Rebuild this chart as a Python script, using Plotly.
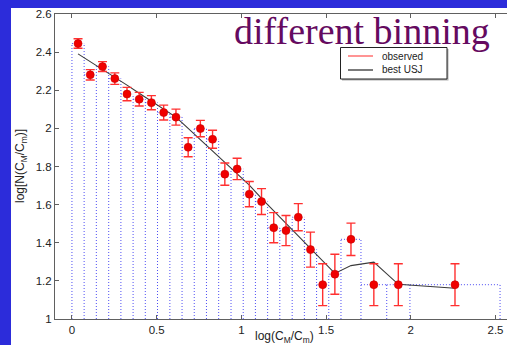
import plotly.graph_objects as go

# ---- data ----
bin_edges = [0, 0.072, 0.144, 0.217, 0.289, 0.361, 0.433, 0.505, 0.578, 0.650,
             0.722, 0.794, 0.866, 0.939, 1.011, 1.083, 1.155, 1.227, 1.300,
             1.372, 1.444, 1.516, 1.588, 1.706, 1.858, 1.995, 2.527]
observed = [2.445, 2.281, 2.324, 2.261, 2.180, 2.153, 2.135, 2.083, 2.059, 1.901,
            1.999, 1.943, 1.760, 1.787, 1.655, 1.616, 1.479, 1.464, 1.534, 1.364,
            1.180, 1.235, 1.418, 1.180, 1.180, 1.180]
observed_err = [0.025, 0.027, 0.026, 0.030, 0.035, 0.036, 0.037, 0.039, 0.042, 0.050,
                0.043, 0.047, 0.058, 0.056, 0.066, 0.068, 0.079, 0.079, 0.071, 0.092,
                0.110, 0.105, 0.085, 0.110, 0.110, 0.110]
best_usj = [2.391, 2.351, 2.308, 2.268, 2.227, 2.184, 2.143, 2.101, 2.059, 2.000,
            1.940, 1.878, 1.820, 1.759, 1.702, 1.633, 1.567, 1.500, 1.435, 1.367,
            1.302, 1.239, 1.280, 1.298, 1.182, 1.161]
x_tick_vals = [0, 0.5, 1, 1.5, 2, 2.5]
x_tick_text = ["0", "0.5", "1", "1.5", "2", "2.5"]
y_tick_vals = [1, 1.2, 1.4, 1.6, 1.8, 2, 2.2, 2.4, 2.6]
y_tick_text = ["1", "1.2", "1.4", "1.6", "1.8", "2", "2.2", "2.4", "2.6"]
legend_labels = ["observed", "best USJ"]
title_text = "different binning"
x_title = "log(C<sub>M</sub>/C<sub>m</sub>)"
y_title = "log[N(C<sub>M</sub>/C<sub>m</sub>)]"

n = len(observed)
# bin centres
centres = [(bin_edges[i] + bin_edges[i + 1]) / 2 for i in range(n)]

# histogram outline: each edge drawn once, up to the taller neighbour
hx, hy = [], []
for j, e in enumerate(bin_edges):
    neigh = []
    if j > 0:
        neigh.append(observed[j - 1])
    if j < n:
        neigh.append(observed[j])
    hx += [e, e, None]
    hy += [1, max(neigh), None]
for i, h in enumerate(observed):
    hx += [bin_edges[i], bin_edges[i + 1], None]
    hy += [h, h, None]

# ---- layout geometry (pixels) ----
W, H = 507, 345
ML, MR, MT, MB = 55, 0, 14, 26
PW, PH = W - ML - MR, H - MT - MB


def px(x):
    return (x - ML) / PW


def py(y):
    return (H - MB - y) / PH


fig = go.Figure()
fig.add_trace(go.Scatter(x=hx, y=hy, mode="lines",
                         line=dict(color="rgba(35,35,240,0.8)", width=1, dash="1px,2px"),
                         hoverinfo="skip", showlegend=False))
fig.add_trace(go.Scatter(x=centres, y=best_usj, mode="lines",
                         line=dict(color="#3a3a3a", width=1.1),
                         showlegend=False))
fig.add_trace(go.Scatter(x=centres, y=observed, mode="markers",
                         marker=dict(color="#f00000", size=8,
                                     line=dict(color="#c80000", width=0.6)),
                         error_y=dict(type="data", array=observed_err, visible=True,
                                      color="#ff3030", thickness=1.4, width=4.5),
                         showlegend=False))

shapes = []
blue = "rgb(44,44,218)"
# blue frame strips
shapes.append(dict(type="rect", xref="paper", yref="paper",
                   x0=px(0), x1=px(11), y0=py(H), y1=py(0),
                   fillcolor=blue, line=dict(width=0), layer="below"))
shapes.append(dict(type="rect", xref="paper", yref="paper",
                   x0=px(0), x1=px(W), y0=py(8), y1=py(0),
                   fillcolor=blue, line=dict(width=0), layer="below"))
# legend box with shadow
shapes.append(dict(type="rect", xref="paper", yref="paper",
                   x0=px(342), x1=px(448.5), y0=py(80.5), y1=py(49),
                   fillcolor="#b0b0b0", line=dict(width=0)))
shapes.append(dict(type="rect", xref="paper", yref="paper",
                   x0=px(340.5), x1=px(447), y0=py(79), y1=py(47.5),
                   fillcolor="white", line=dict(color="#222", width=1)))
shapes.append(dict(type="line", xref="paper", yref="paper",
                   x0=px(348), x1=px(373), y0=py(56), y1=py(56),
                   line=dict(color="#ff7070", width=1.5)))
shapes.append(dict(type="line", xref="paper", yref="paper",
                   x0=px(348), x1=px(373), y0=py(70), y1=py(70),
                   line=dict(color="#222", width=1.2)))

annotations = [
    dict(text=title_text, xref="paper", yref="paper", x=px(492), y=py(31),
         xanchor="right", yanchor="middle", showarrow=False,
         font=dict(family="Liberation Serif", size=38, color="#650a60")),
    dict(text=legend_labels[0], xref="paper", yref="paper", x=px(380), y=py(56.5),
         xanchor="left", yanchor="middle", showarrow=False,
         font=dict(family="Liberation Sans", size=10, color="#222")),
    dict(text=legend_labels[1], xref="paper", yref="paper", x=px(380), y=py(69),
         xanchor="left", yanchor="middle", showarrow=False,
         font=dict(family="Liberation Sans", size=10, color="#222")),
    dict(text=x_title, xref="paper", yref="paper", x=px(284), y=py(337),
         xanchor="center", yanchor="middle", showarrow=False,
         font=dict(family="Liberation Sans", size=12, color="#222")),
    dict(text=y_title, xref="paper", yref="paper", x=px(21), y=py(166),
         xanchor="center", yanchor="middle", showarrow=False, textangle=-90,
         font=dict(family="Liberation Sans", size=12, color="#222")),
]

fig.update_layout(
    width=W, height=H,
    margin=dict(l=ML, r=MR, t=MT, b=MB, pad=0),
    paper_bgcolor="white", plot_bgcolor="white",
    shapes=shapes, annotations=annotations,
    showlegend=False,
    font=dict(family="Liberation Sans", size=11.5, color="#222"),
    xaxis=dict(range=[-0.1, 2.568], tickvals=x_tick_vals, ticktext=x_tick_text,
               showgrid=False, zeroline=False, showline=True, linecolor="#606060",
               linewidth=1, ticks="inside", ticklen=4, tickcolor="#606060",
               mirror="ticks"),
    yaxis=dict(range=[1, 2.6], tickvals=y_tick_vals, ticktext=y_tick_text,
               showgrid=False, zeroline=False, showline=True, linecolor="#606060",
               linewidth=1, ticks="inside", ticklen=4, tickcolor="#606060"),
)

fig.write_html("out.html")
